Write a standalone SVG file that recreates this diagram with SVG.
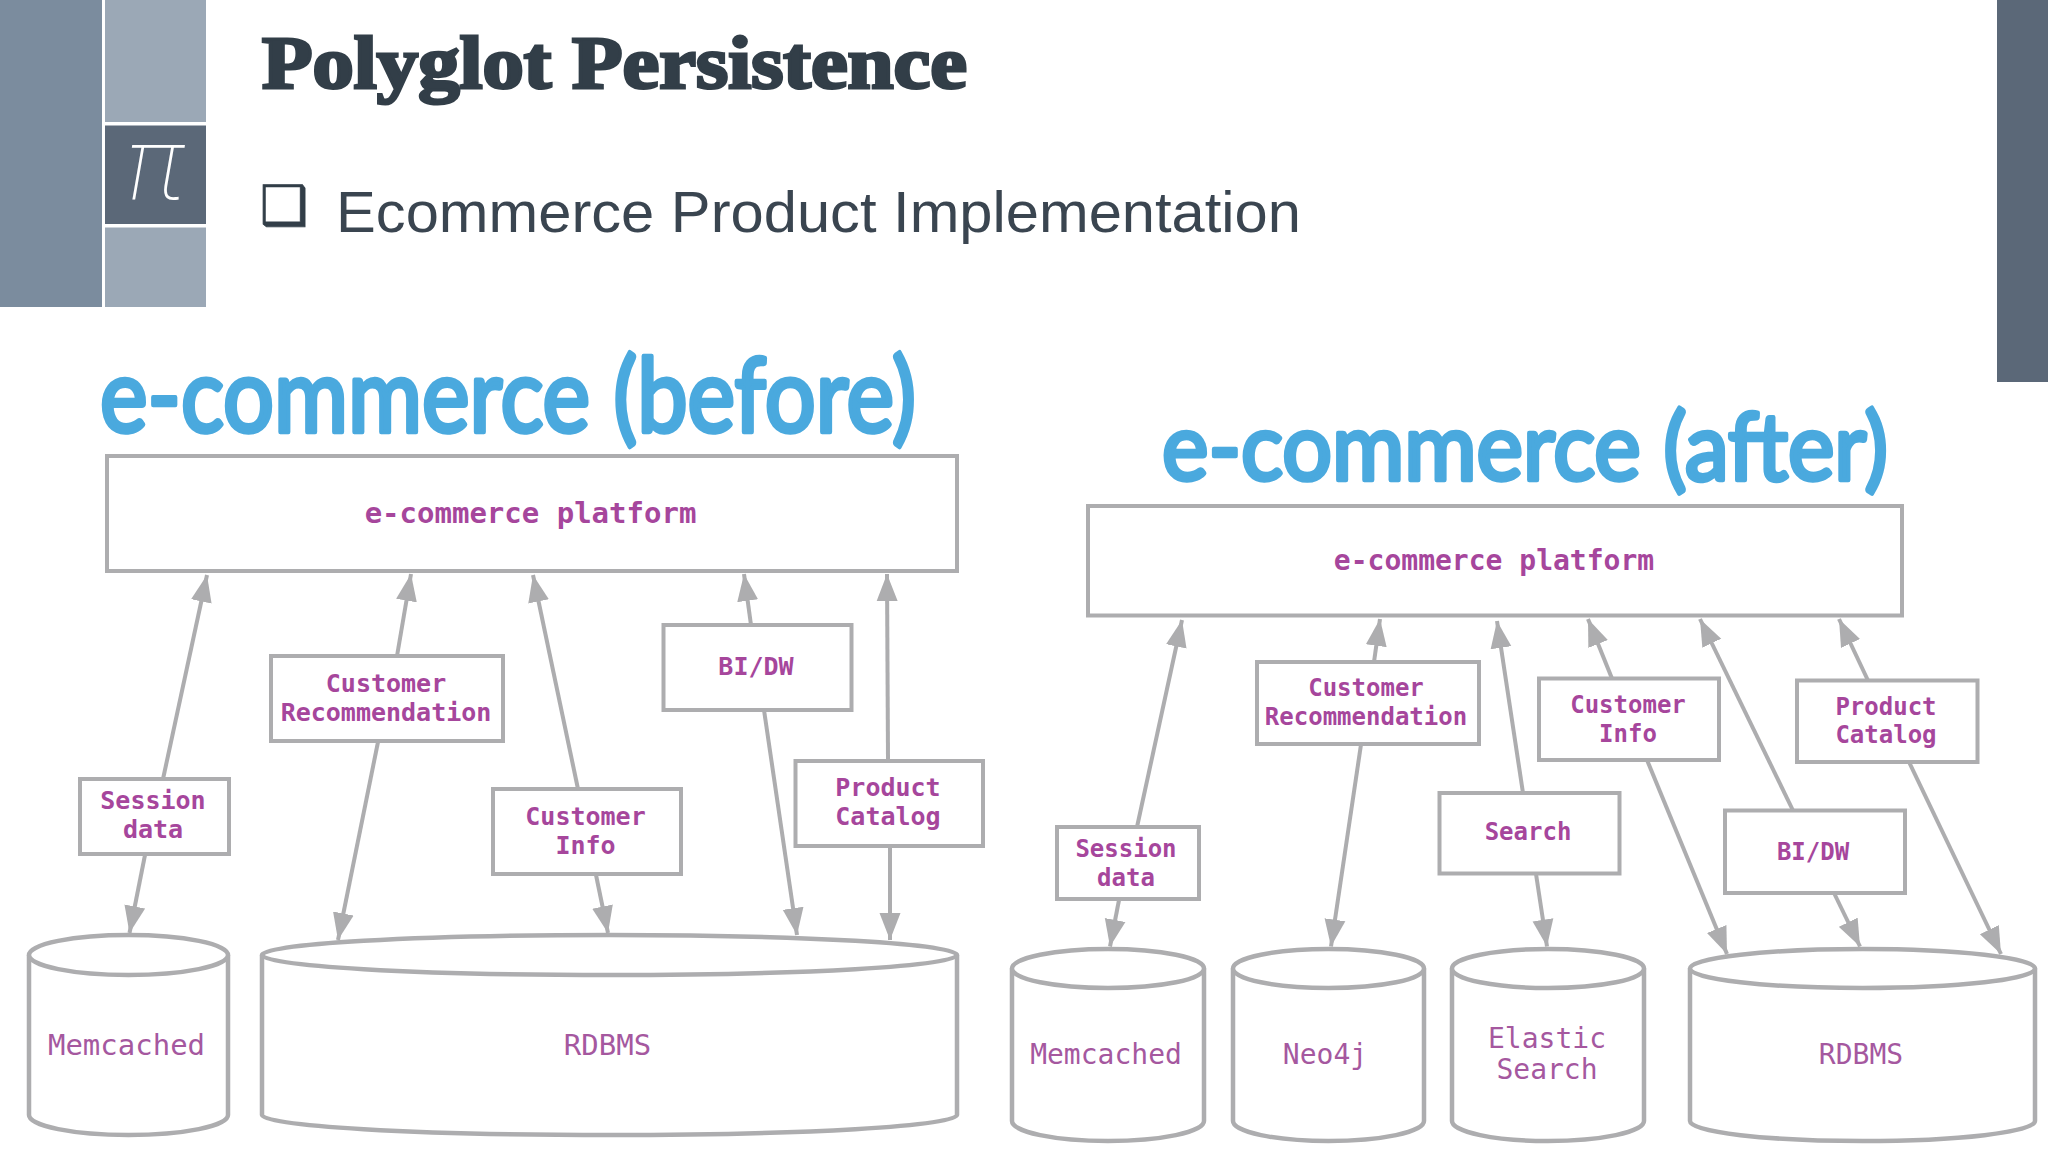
<svg xmlns="http://www.w3.org/2000/svg" width="2048" height="1152" viewBox="0 0 2048 1152">
<style>
.box{fill:#fff;stroke:#adadaf;stroke-width:4}
.cyl{fill:#fff;stroke:#adadaf;stroke-width:4.5}
.c line{stroke:#adadaf;stroke-width:4;marker-end:url(#a)}
.lb{font-family:"DejaVu Sans Mono",monospace;font-weight:bold;fill:#a6469c;text-anchor:middle}
.db{font-family:"DejaVu Sans Mono",monospace;fill:#a5589f;text-anchor:middle}
.hand{font-family:Lato,"Noto Sans",sans-serif;font-weight:normal;fill:#4aa9de;stroke:#4aa9de;stroke-width:4.5;stroke-linejoin:round;stroke-linecap:round}
.l25{font-size:25px}.l24{font-size:24px}.l29{font-size:29px}.l28{font-size:28px}
</style>
<defs><marker id="a" markerUnits="userSpaceOnUse" markerWidth="28" markerHeight="22" refX="27" refY="11" orient="auto"><path d="M0,0.5L27,11L0,21.500Z" fill="#adadaf"/></marker></defs>
<rect width="2048" height="1152" fill="#fff"/>
<g id="theme">
<rect x="0" y="0" width="102" height="307" fill="#7b8c9e"/>
<rect x="105" y="0" width="101" height="122" fill="#9ba8b6"/>
<rect x="105" y="125.500" width="101" height="98.500" fill="#5b6878"/>
<rect x="105" y="227.500" width="101" height="79.500" fill="#9ba8b6"/>
<rect x="1997" y="0" width="51" height="382" fill="#5b6878"/>
<text x="155" y="200" font-family="Roboto,sans-serif" font-style="italic" font-weight="100" font-size="104" fill="#fff" text-anchor="middle">π</text>
</g>
<text x="262" y="88" font-family="'Liberation Serif',serif" font-weight="bold" font-size="73" fill="#323e48" stroke="#323e48" stroke-width="3" textLength="705" lengthAdjust="spacingAndGlyphs">Polyglot Persistence</text>
<text x="260" y="224" font-family="'DejaVu Sans',sans-serif" font-size="54" fill="#323e48" stroke="#323e48" stroke-width="0.800">❑</text>
<text x="336" y="232" font-family="'Liberation Sans',sans-serif" font-size="58" fill="#3a4550" textLength="965" lengthAdjust="spacingAndGlyphs">Ecommerce Product Implementation</text>
<text class="hand" x="100" y="432" font-size="102" textLength="816" lengthAdjust="spacingAndGlyphs">e-commerce (before)</text>
<text class="hand" x="1162" y="480" font-size="94" textLength="726" lengthAdjust="spacingAndGlyphs">e-commerce (after)</text>
<g id="connectors" class="c">
<line x1="163" y1="779" x2="207" y2="575"/><line x1="145" y1="855" x2="129.500" y2="933"/>
<line x1="397" y1="656" x2="411" y2="574"/><line x1="378" y1="742" x2="338" y2="940"/>
<line x1="578" y1="789" x2="533" y2="575"/><line x1="596" y1="875" x2="608" y2="933"/>
<line x1="751" y1="625" x2="744" y2="574"/><line x1="764" y1="710" x2="797" y2="935"/>
<line x1="888" y1="760" x2="887" y2="574"/><line x1="890" y1="846" x2="890" y2="940"/>
<line x1="1137" y1="827" x2="1182" y2="620"/><line x1="1119" y1="900" x2="1110" y2="946.500"/>
<line x1="1374" y1="662" x2="1380" y2="619"/><line x1="1361" y1="744.500" x2="1331" y2="946.500"/>
<line x1="1523" y1="793" x2="1497" y2="621"/><line x1="1536" y1="874" x2="1547" y2="946.500"/>
<line x1="1612" y1="678.500" x2="1588" y2="619"/><line x1="1647" y1="760" x2="1727" y2="954"/>
<line x1="1793" y1="810.500" x2="1700" y2="619"/><line x1="1834" y1="893" x2="1860" y2="946.500"/>
<line x1="1868" y1="680.500" x2="1839" y2="619"/><line x1="1909" y1="762" x2="2001" y2="954"/>
</g>
<g id="before-platform"><rect class="box" x="107" y="456" width="850" height="115"/><text class="lb l29" x="530.500" y="522.500">e-commerce platform</text></g>
<g id="before-session"><rect class="box" x="80" y="779" width="149" height="75"/><text class="lb l25" x="153" y="808.500">Session</text><text class="lb l25" x="153" y="837.500">data</text></g>
<g id="before-reco"><rect class="box" x="271" y="656" width="232" height="85"/><text class="lb l25" x="386" y="692">Customer</text><text class="lb l25" x="386" y="720.500">Recommendation</text></g>
<g id="before-info"><rect class="box" x="493" y="789" width="188" height="85"/><text class="lb l25" x="585.500" y="824.500">Customer</text><text class="lb l25" x="585.500" y="854">Info</text></g>
<g id="before-bi"><rect class="box" x="663.500" y="625" width="188" height="85"/><text class="lb l25" x="756" y="674.500">BI/DW</text></g>
<g id="before-catalog"><rect class="box" x="795.500" y="761" width="187.500" height="85"/><text class="lb l25" x="888" y="796">Product</text><text class="lb l25" x="888" y="825">Catalog</text></g>
<g id="before-memcached"><path class="cyl" d="M29,955V1115A99.500,20 0 0 0 228,1115V955"/><ellipse class="cyl" cx="128.500" cy="955" rx="99.500" ry="20"/><text class="db l29" x="126.500" y="1054.500">Memcached</text></g>
<g id="before-rdbms"><path class="cyl" d="M262,955V1115A347.500,20 0 0 0 957,1115V955"/><ellipse class="cyl" cx="609.500" cy="955" rx="347.500" ry="20"/><text class="db l29" x="607.500" y="1054.500">RDBMS</text></g>
<g id="after-platform"><rect class="box" x="1088" y="506" width="814" height="109.500"/><text class="lb l28" x="1494" y="569.500">e-commerce platform</text></g>
<g id="after-session"><rect class="box" x="1057" y="827" width="142" height="72"/><text class="lb l24" x="1126" y="857">Session</text><text class="lb l24" x="1126" y="885.500">data</text></g>
<g id="after-reco"><rect class="box" x="1257" y="662" width="222" height="82"/><text class="lb l24" x="1366" y="696">Customer</text><text class="lb l24" x="1366" y="724.500">Recommendation</text></g>
<g id="after-info"><rect class="box" x="1539" y="678.500" width="180" height="81.500"/><text class="lb l24" x="1628" y="712.500">Customer</text><text class="lb l24" x="1628" y="741.500">Info</text></g>
<g id="after-catalog"><rect class="box" x="1797" y="680.500" width="180.500" height="81.500"/><text class="lb l24" x="1886" y="714.500">Product</text><text class="lb l24" x="1886" y="743">Catalog</text></g>
<g id="after-search"><rect class="box" x="1439.500" y="793" width="180" height="80.500"/><text class="lb l24" x="1528" y="839.500">Search</text></g>
<g id="after-bi"><rect class="box" x="1725" y="810.500" width="180" height="82.500"/><text class="lb l24" x="1813" y="859.500">BI/DW</text></g>
<g id="after-memcached"><path class="cyl" d="M1012,968.500V1121A96,20 0 0 0 1204,1121V968.500"/><ellipse class="cyl" cx="1108" cy="968.500" rx="96" ry="19.500"/><text class="db l28" x="1106" y="1064">Memcached</text></g>
<g id="after-neo4j"><path class="cyl" d="M1233,968.500V1121A95.500,20 0 0 0 1424,1121V968.500"/><ellipse class="cyl" cx="1328.500" cy="968.500" rx="95.500" ry="19.500"/><text class="db l28" x="1325" y="1064">Neo4j</text></g>
<g id="after-elastic"><path class="cyl" d="M1452,968.500V1121A96,20 0 0 0 1644,1121V968.500"/><ellipse class="cyl" cx="1548" cy="968.500" rx="96" ry="19.500"/><text class="db l28" x="1547" y="1047.500">Elastic</text><text class="db l28" x="1547" y="1078.500">Search</text></g>
<g id="after-rdbms"><path class="cyl" d="M1690,968.500V1121A172.500,20 0 0 0 2035,1121V968.500"/><ellipse class="cyl" cx="1862.500" cy="968.500" rx="172.500" ry="19.500"/><text class="db l28" x="1861" y="1064">RDBMS</text></g>
</svg>
